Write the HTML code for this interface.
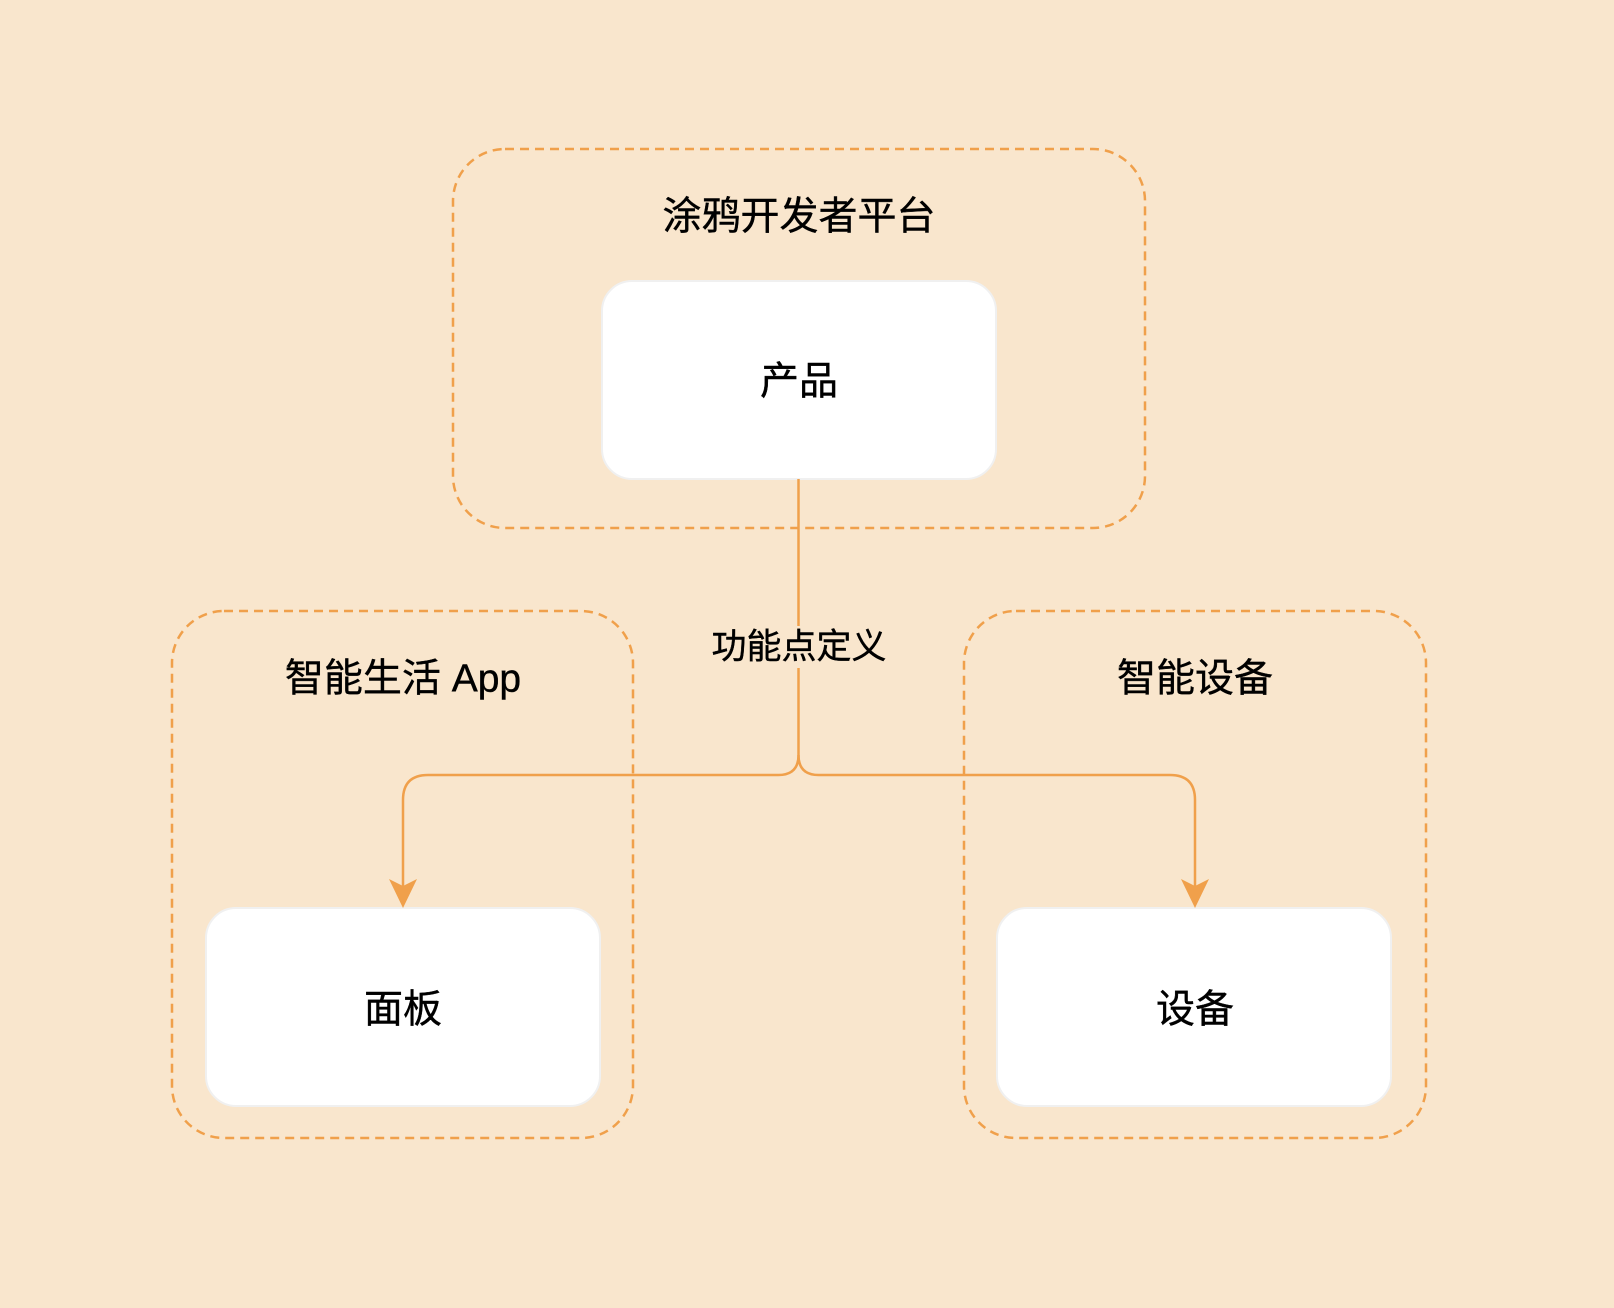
<!DOCTYPE html>
<html><head><meta charset="utf-8"><style>
html,body{margin:0;padding:0;background:#F9E6CD;}
svg{display:block}
text{font-family:"Liberation Sans","Noto Sans CJK SC",sans-serif;fill:#000;text-anchor:middle;dominant-baseline:central;stroke:#000;stroke-width:0.4}
</style></head><body>
<svg width="1614" height="1308" viewBox="0 0 1614 1308" xmlns="http://www.w3.org/2000/svg">
<rect width="1614" height="1308" fill="#F9E6CD"/>
<g fill="none" stroke="#F0A04B" stroke-width="2.5" stroke-dasharray="9 6">
<rect x="453" y="149" width="692" height="379" rx="52"/>
<rect x="172" y="611" width="461" height="527" rx="52"/>
<rect x="964" y="611" width="462" height="527" rx="52"/>
</g>
<g fill="#fff" stroke="#F0F0F0" stroke-width="2">
<rect x="602" y="281" width="394" height="198" rx="30"/>
<rect x="206" y="908" width="394" height="198" rx="30"/>
<rect x="997" y="908" width="394" height="198" rx="30"/>
</g>
<g fill="none" stroke="#F0A04B" stroke-width="2.5">
<path d="M798.5 479 V755 Q798.5 775 778.5 775 H428 Q403 775 403 800 V890"/>
<path d="M798.5 755 Q798.5 775 818.5 775 H1170 Q1195 775 1195 800 V890"/>
</g>
<g fill="#F0A04B">
<path d="M389 879 L403 908 L417 879 L403 886 Z"/>
<path d="M1181 879 L1195 908 L1209 879 L1195 886 Z"/>
</g>
<rect x="706" y="626" width="186" height="42" fill="#F9E6CD"/>
<text x="799" y="647" font-size="35">功能点定义</text>
<text x="799" y="217" font-size="39">涂鸦开发者平台</text>
<text x="799" y="382" font-size="39">产品</text>
<text x="403" y="679" font-size="39">智能生活 App</text>
<text x="1195" y="679" font-size="39">智能设备</text>
<text x="403" y="1010" font-size="39">面板</text>
<text x="1195" y="1010" font-size="39">设备</text>
</svg>
</body></html>
